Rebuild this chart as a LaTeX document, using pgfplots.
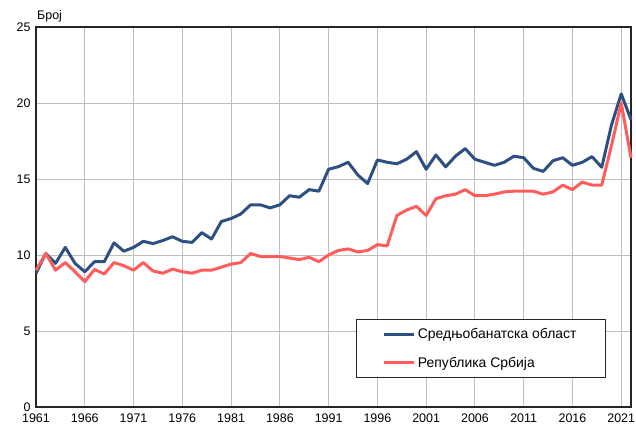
\documentclass[border=0pt]{standalone}
\usepackage{pgfplots}
\pgfplotsset{compat=1.18}
\usepackage{fontspec}
\setmainfont{Liberation Sans}
\definecolor{cblue}{RGB}{46,80,128}
\definecolor{cred}{RGB}{255,92,92}
\definecolor{cgrid}{RGB}{190,190,190}
\pgfplotstableread{
year blue red
1961 8.8 9.0
1962 10.1 10.1
1963 9.45 9.0
1964 10.5 9.5
1965 9.45 8.9
1966 8.9 8.25
1967 9.56 9.05
1968 9.56 8.75
1969 10.8 9.5
1970 10.25 9.3
1971 10.5 9.0
1972 10.9 9.5
1973 10.75 8.95
1974 10.95 8.8
1975 11.2 9.07
1976 10.9 8.9
1977 10.83 8.8
1978 11.47 9.0
1979 11.05 9.0
1980 12.2 9.2
1981 12.4 9.4
1982 12.7 9.5
1983 13.3 10.1
1984 13.3 9.9
1985 13.1 9.9
1986 13.3 9.9
1987 13.9 9.8
1988 13.8 9.7
1989 14.3 9.85
1990 14.2 9.56
1991 15.64 10.0
1992 15.81 10.3
1993 16.1 10.4
1994 15.26 10.2
1995 14.7 10.3
1996 16.25 10.68
1997 16.1 10.6
1998 16.0 12.6
1999 16.3 12.96
2000 16.8 13.2
2001 15.64 12.6
2002 16.58 13.7
2003 15.8 13.9
2004 16.5 14.0
2005 17.0 14.3
2006 16.3 13.9
2007 16.1 13.9
2008 15.9 14.0
2009 16.1 14.15
2010 16.5 14.2
2011 16.4 14.2
2012 15.7 14.2
2013 15.5 14.0
2014 16.2 14.15
2015 16.4 14.6
2016 15.9 14.3
2017 16.1 14.8
2018 16.47 14.6
2019 15.77 14.6
2020 18.55 17.2
2021 20.6 20.0
2022 18.9 16.4
}\datatable
\begin{document}
\begin{tikzpicture}
\begin{axis}[
  scale only axis,
  width=595bp, height=380bp,
  xmin=1961, xmax=2022,
  ymin=0, ymax=25,
  xtick={1961,1966,...,2021},
  ytick={0,5,...,25},
  major tick length=0pt,
  grid=major,
  major grid style={cgrid, line width=0.9pt},
  axis line style={black!85, line width=1.1pt},
  tick label style={font=\fontsize{12.5}{15}\selectfont},
  /pgf/number format/assume math mode=true,
  /pgf/number format/set thousands separator={},
  xticklabel style={yshift=-3bp},
  yticklabel style={xshift=-2bp},
  legend style={at={(0.958,0.076)}, anchor=south east, draw=black!85, line width=0.8pt,
    font=\fontsize{14}{16}\selectfont, inner xsep=27bp, inner ysep=7bp, row sep=13bp,
    cells={anchor=west}},
  legend image code/.code={\draw[#1, line width=3pt] (0bp,0bp) -- (30bp,0bp);},
  clip=false,
]
\addplot[cblue, line width=3pt, line join=round] table[x=year, y=blue] {\datatable};
\addlegendentry{Средњобанатска област}
\addplot[cred, line width=3pt, line join=round] table[x=year, y=red] {\datatable};
\addlegendentry{Република Србија}
\end{axis}
\node[anchor=base west, font=\fontsize{12.5}{15}\selectfont, inner sep=0pt] at ([xshift=1bp, yshift=7bp]current axis.north west) {Број};
\pgfresetboundingbox
\path ([xshift=-36bp,yshift=-21bp]current axis.south west) rectangle ([xshift=5bp,yshift=27bp]current axis.north east);
\end{tikzpicture}
\end{document}
